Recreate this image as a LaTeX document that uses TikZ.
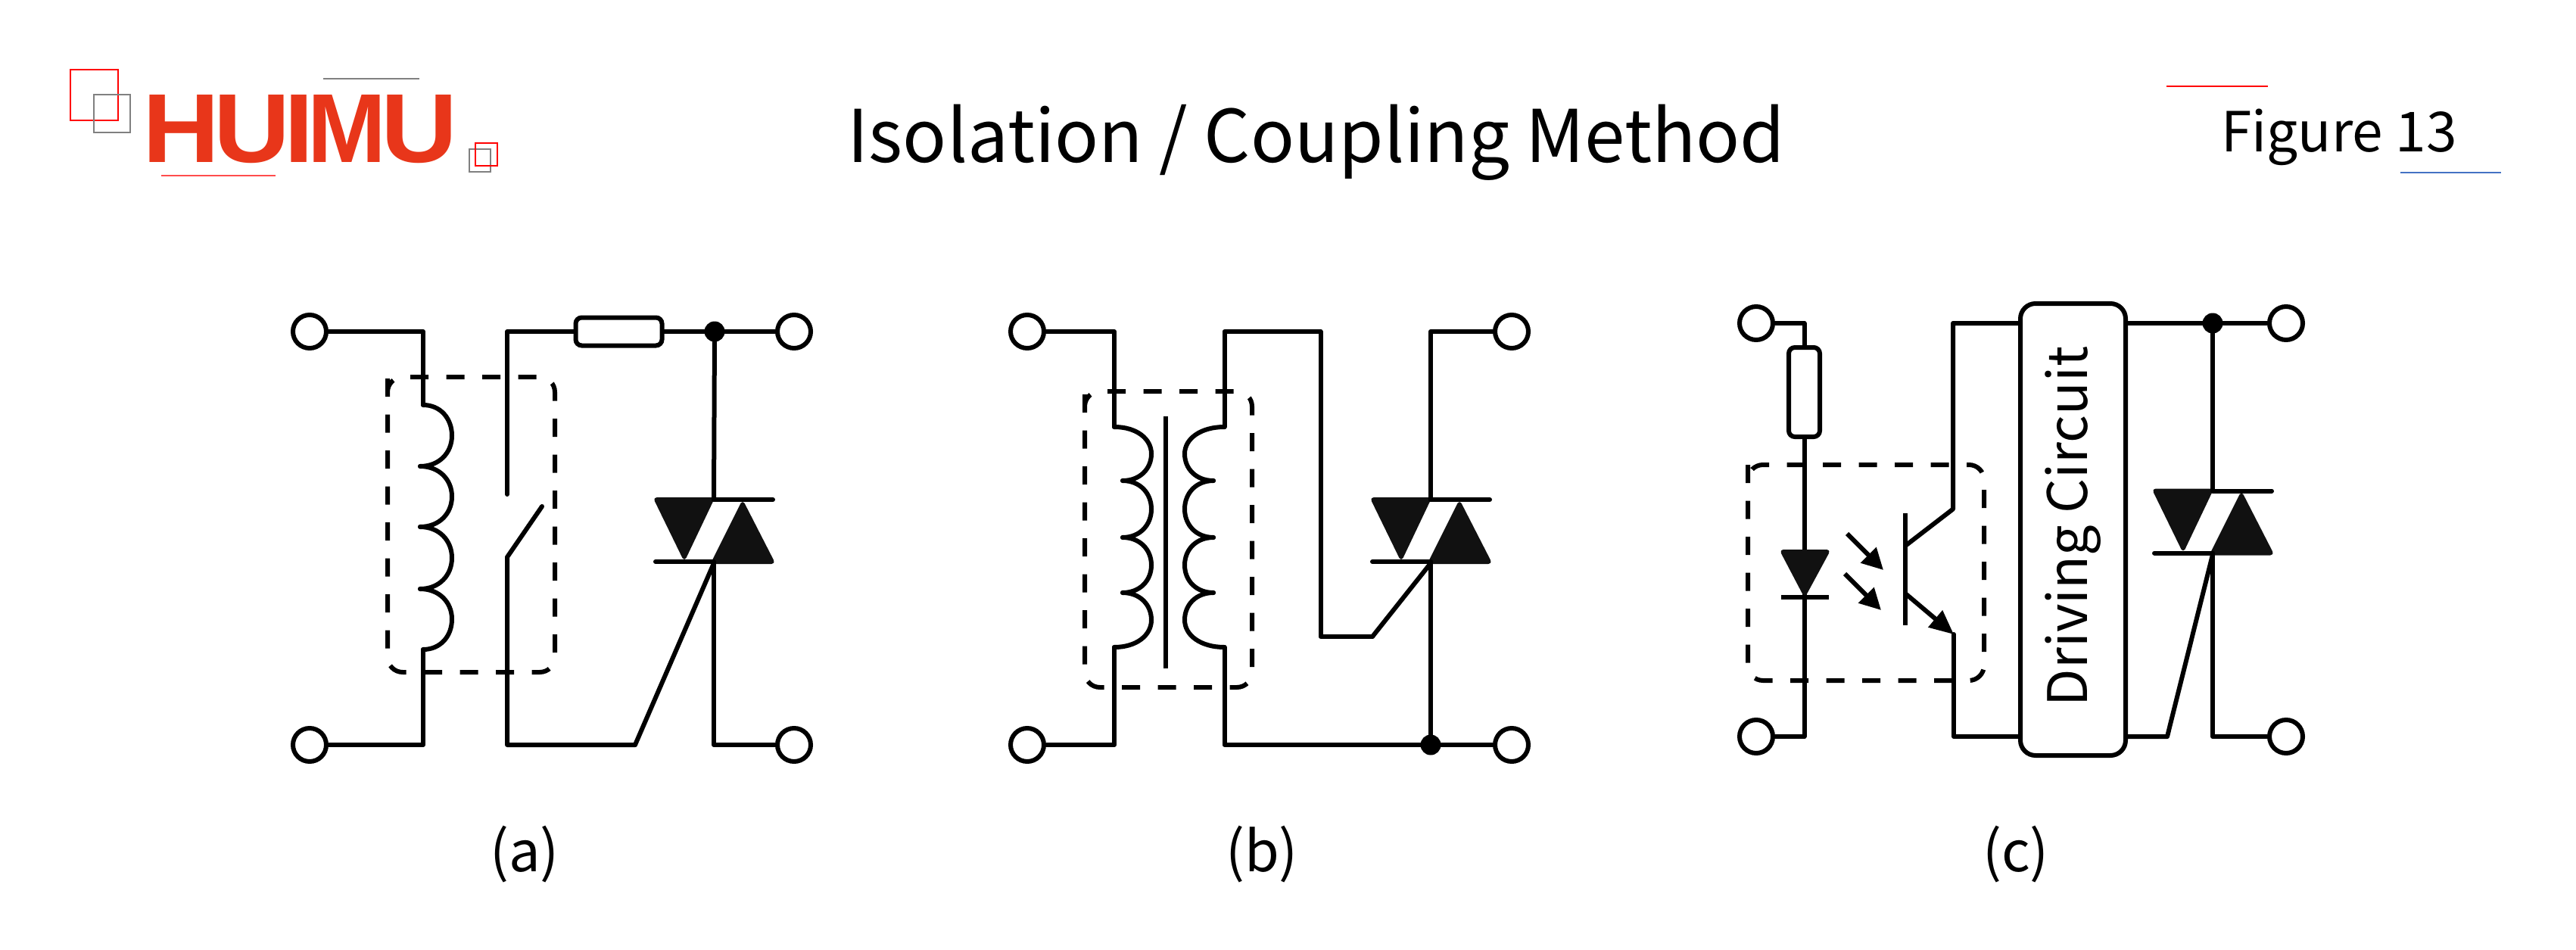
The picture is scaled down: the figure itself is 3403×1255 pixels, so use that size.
\documentclass[tikz,border=0pt]{standalone}
\usepackage{fontspec}
\usepackage{graphicx}
\usetikzlibrary{arrows.meta,calc}
\setmainfont{Noto Sans CJK SC}
\newfontfamily\logofont{Liberation Sans Bold}
\definecolor{logored}{HTML}{E8361A}
\definecolor{solid}{HTML}{111111}
\definecolor{figblue}{HTML}{4472C4}
\tikzset{
  wire/.style={line width=6pt,line join=round,line cap=round,black},
  dashbox/.style={line width=6pt,black,dash pattern=on 24pt off 23.5pt,rounded corners=20pt},
  terminal/.style={circle,draw,line width=6pt,fill=white,minimum size=44pt,inner sep=0pt},
  junction/.style={circle,fill=black,minimum size=27pt,inner sep=0pt},
  resistor/.style={draw,line width=6pt,fill=white,rounded corners=8pt,inner sep=0pt},
  drivebox/.style={draw,line width=6pt,fill=white,rounded corners=20pt,inner sep=0pt,minimum width=139pt,minimum height=597pt,font=\fontsize{72}{72}\selectfont},
  solidshape/.style={fill=solid,draw=solid,line width=2pt,line join=round,rounded corners=4pt},
  title/.style={font=\fontsize{96}{96}\selectfont,inner sep=0pt},
  figlabel/.style={font=\fontsize{73}{73}\selectfont,inner sep=0pt},
  sublabel/.style={font=\fontsize{74}{74}\selectfont,inner sep=0pt},
  decored/.style={draw=red,line width=2.4pt},
  decogray/.style={draw=gray,line width=2.4pt},
}
% horizontal-tangent coil turn from (#1,#2) to (#3,#4) bulging to x=#5
\newcommand\coilturn[5]{%
  \draw[wire] (#1,#2) .. controls ({#1+0.6*(#5-#1)},#2) and (#5,{#2+0.22*(#4-#2)}) .. (#5,{(#2+#4)/2})
    .. controls (#5,{#4-0.22*(#4-#2)}) and ({#3+0.6*(#5-#3)},#4) .. (#3,#4);}
% triac: #1 name, #2 x of main axis, #3 y of top bar
\newcommand\triacsym[3]{%
  \begin{scope}[shift={(#2,#3)}]
    \coordinate (#1top) at (0,0);
    \coordinate (#1gate) at (0,84);
    \filldraw[solidshape] (-79,-2) -- (0,-2) -- (-39,80) -- cycle;
    \filldraw[solidshape] (38,2) -- (80,84) -- (-3,84) -- cycle;
    \draw[wire,line cap=round] (0,0) -- (78,0);
    \draw[wire,line cap=round] (-77,82) -- (0,82);
  \end{scope}}
% dashed box with rounded corners, dash phase #5
\newcommand\dashedframe[5]{%
  \draw[dashbox,dash phase=#5] (#1,{#2+20}) -- (#1,#2) -- (#3,#2) -- (#3,#4) -- (#1,#4) -- cycle;}
\newcommand\logoletter[2]{\resizebox{#1pt}{89pt}{#2}}
\begin{document}
\begin{tikzpicture}[x=1pt,y=-1pt]
\useasboundingbox (0,0) rectangle (3403,1255);
\fill[white] (0,0) rectangle (3403,1255);

% ---- logo ----
\draw[decored] (93,92) rectangle (156,159);
\draw[decogray] (124,125) rectangle (172,175);
\node[inner sep=0pt,outer sep=0pt,text=logored,anchor=base west,font=\logofont] (logo) at (188.6,214) {\logoletter{101.9}{H}\kern-8.4pt\logoletter{101}{U}\kern-7.8pt\logoletter{39.2}{I}\kern-7.8pt\logoletter{103.8}{M}\kern-7.4pt\logoletter{101}{U}};
\coordinate (lg1) at (427,104); \coordinate (lg2) at (554,104);
\draw[decogray] (lg1) -- (lg2);
\coordinate (lr1) at (213,232); \coordinate (lr2) at (364,232);
\draw[draw=red!70,line width=2.4pt] (lr1) -- (lr2);
\draw[decogray] (620,197) rectangle (648,227);
\draw[decored] (628,189) rectangle (657,219);

% ---- titles ----
\node[title] (ttl) at (1739,188) {Isolation / Coupling Method};
\node[figlabel] (fig) at (3090,181) {Figure 13};
\coordinate (fr1) at (2862,114); \coordinate (fr2) at (2996,114);
\draw[draw=red,line width=2.4pt] (fr1) -- (fr2);
\coordinate (fb1) at (3171,228); \coordinate (fb2) at (3304,228);
\draw[draw=figblue,line width=2.4pt] (fb1) -- (fb2);
\node[sublabel] (la) at (693,1128) {(a)};
\node[sublabel] (lb) at (1667,1128) {(b)};
\node[sublabel] (lc) at (2663,1128) {(c)};

% ---- (a) ----
\coordinate (aCoilTop) at (559,535);
\coordinate (aCoilBot) at (559,858);
\coordinate (aSwA) at (670,653);
\coordinate (aSwB) at (716,669);
\coordinate (aSwC) at (670,736);
\coordinate (aCorner) at (670,984);
\coordinate (aKink) at (839,984);
\dashedframe{512}{498}{733}{888}{33.6}
\node[terminal] (aTL) at (409,438) {};
\node[terminal] (aBL) at (409,984) {};
\node[terminal] (aTR) at (1049,438) {};
\node[terminal] (aBR) at (1049,984) {};
\node[junction] (aDot) at (944,438) {};
\draw[wire] (aTL.east) -| (aCoilTop);
\draw[wire] (aBL.east) -| (aCoilBot);
\coilturn{559}{535}{555}{616}{597}
\coilturn{555}{616}{555}{696}{597}
\coilturn{555}{696}{555}{778}{597}
\coilturn{555}{778}{559}{858}{597}
\node[resistor,minimum width=114pt,minimum height=37pt] (aRes) at (817.5,438) {};
\draw[wire] (aRes.west) -| (aSwA);
\draw[wire] (aSwB) -- (aSwC) -- (aCorner) -- (aKink);
\triacsym{aT}{943}{660}
\draw[wire] (aKink) -- (aTgate);
\draw[wire] (aRes.east) -- (aDot) -- (aTR.west);
\draw[wire] (aDot) -- (aTtop);
\draw[wire] (aTgate) |- (aBR.west);

% ---- (b) ----
\coordinate (bCoilLT) at (1472,564);
\coordinate (bCoilLB) at (1472,855);
\coordinate (bCoilRT) at (1617.5,564);
\coordinate (bCoilRB) at (1617.5,855);
\coordinate (bCoreT) at (1540,550);
\coordinate (bCoreB) at (1540,883);
\coordinate (bUpper) at (1744.5,438);
\coordinate (bLower) at (1744.5,841);
\coordinate (bKink) at (1813,841);
\dashedframe{1433}{517}{1654}{908}{33.6}
\node[terminal] (bTL) at (1357,438) {};
\node[terminal] (bBL) at (1357,984) {};
\node[terminal] (bTR) at (1997,438) {};
\node[terminal] (bBR) at (1997,984) {};
\node[junction] (bDot) at (1890,984) {};
\draw[wire] (bTL.east) -| (bCoilLT);
\draw[wire] (bBL.east) -| (bCoilLB);
\coilturn{1472}{564}{1483}{635}{1521}
\coilturn{1483}{635}{1483}{710}{1521}
\coilturn{1483}{710}{1483}{783}{1521}
\coilturn{1483}{783}{1472}{855}{1521}
\draw[wire,line cap=butt] (bCoreT) -- (bCoreB);
\coilturn{1617.5}{564}{1603}{635}{1565}
\coilturn{1603}{635}{1603}{710}{1565}
\coilturn{1603}{710}{1603}{783}{1565}
\coilturn{1603}{783}{1617.5}{855}{1565}
\draw[wire] (bCoilRT) |- (bUpper) -- (bLower) -- (bKink);
\triacsym{bT}{1890}{660}
\draw[wire] (bKink) -- (bTgate);
\draw[wire] (bTR.west) -| (bTtop);
\draw[wire] (bTgate) -- (bDot);
\draw[wire] (bCoilRB) |- (bDot);
\draw[wire] (bDot) -- (bBR.west);

% ---- (c) ----
\dashedframe{2309}{614}{2621}{899}{12.1}
\node[terminal] (cTL) at (2320,427) {};
\node[terminal] (cBL) at (2320,973) {};
\node[terminal] (cTR) at (3020,427) {};
\node[terminal] (cBR) at (3020,973) {};
\node[junction] (cDot) at (2923,427) {};
\node[resistor,minimum width=41pt,minimum height=118pt] (cRes) at (2383.5,518) {};
\draw[wire] (cTL.east) -| (cRes.north);
\draw[wire] (cRes.south) |- (cBL.east);
\filldraw[solidshape] (2352,727) -- (2417,727) -- (2384,788) -- cycle;
\coordinate (cBarL) at (2353,789); \coordinate (cBarR) at (2416,789);
\draw[wire,line cap=butt] (cBarL) -- (cBarR);
\coordinate (cArAs) at (2440,705); \coordinate (cArAe) at (2488,753);
\coordinate (cArBs) at (2437,758); \coordinate (cArBe) at (2485,806);
\draw[wire,line cap=butt,-{Triangle[length=28pt,width=28pt]}] (cArAs) -- (cArAe);
\draw[wire,line cap=butt,-{Triangle[length=28pt,width=28pt]}] (cArBs) -- (cArBe);
\coordinate (cBaseT) at (2517,678); \coordinate (cBaseB) at (2517,826);
\draw[wire,line cap=butt] (cBaseT) -- (cBaseB);
\coordinate (cBcol) at (2517,721); \coordinate (cColl) at (2580,672.5);
\coordinate (cBem) at (2517,784); \coordinate (cEm) at (2581,838);
\node[drivebox] (cDrv) at (2738.5,699.5) {\rotatebox{90}{\kern8pt Driving Circuit}};
\draw[wire] (cDrv.west |- cTL) -| (cColl) -- (cBcol);
\draw[wire] (cEm) |- (cDrv.west |- cBL);
\draw[wire,line cap=butt,-{Triangle[length=32pt,width=28pt]}] (cBem) -- (cEm);
\triacsym{cT}{2923}{648.5}
\draw[wire] (cDrv.east |- cTL) -- (cDot) -- (cTR.west);
\draw[wire] (cDot) -- (cTtop);
\coordinate (cKink) at (2863,973);
\draw[wire] (cDrv.east |- cBL) -- (cKink) -- (cTgate);
\draw[wire] (cTgate) |- (cBR.west);
\end{tikzpicture}
\end{document}
